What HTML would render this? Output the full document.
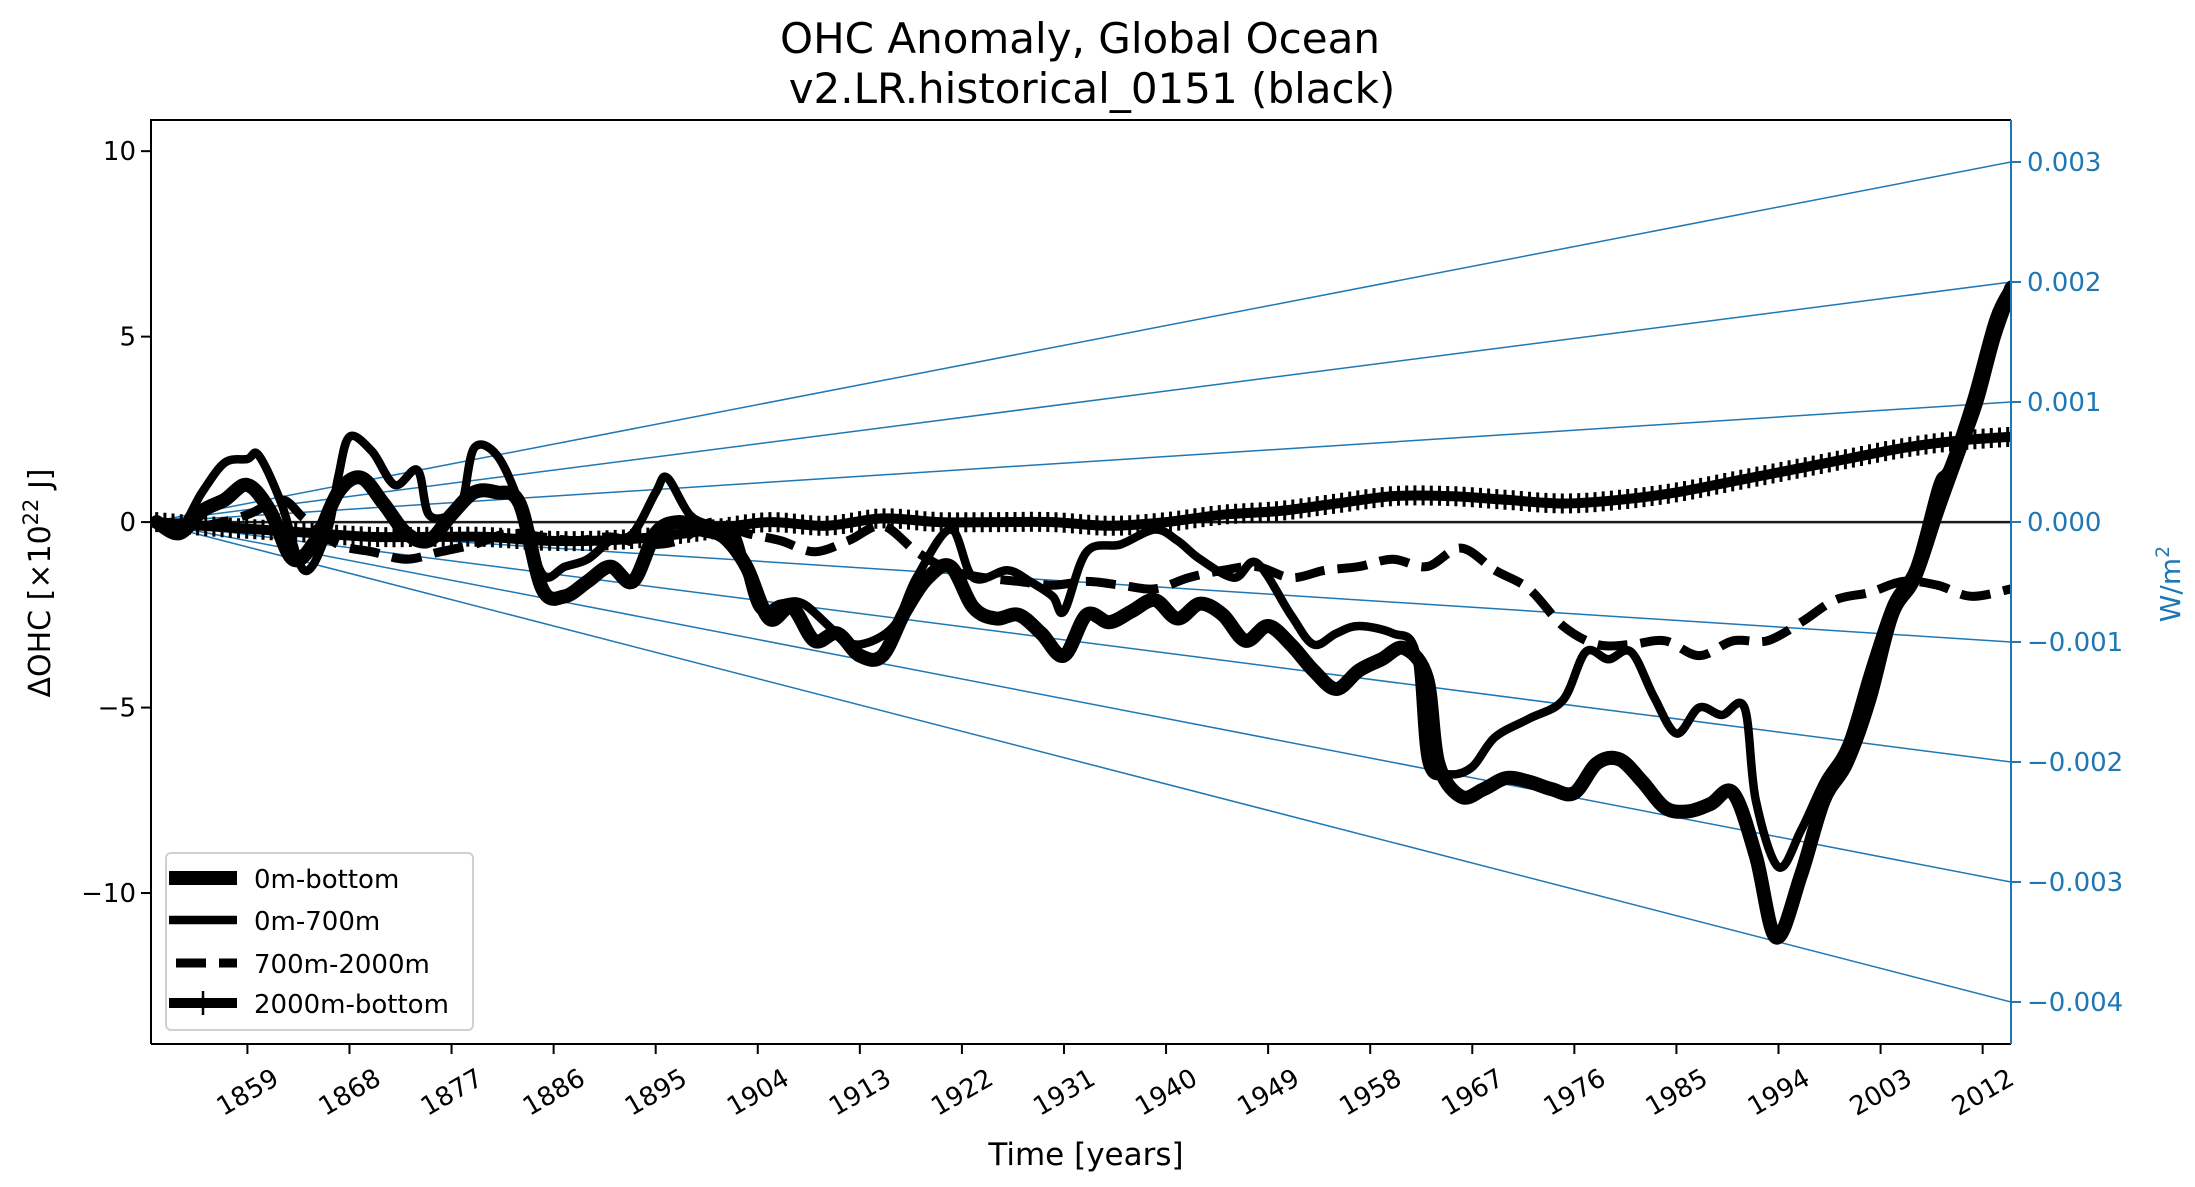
<!DOCTYPE html>
<html><head><meta charset="utf-8"><style>
html,body{margin:0;padding:0;background:#fff;}
svg{display:block;font-family:"DejaVu Sans","Liberation Sans",sans-serif;}
</style></head><body>
<svg id="chart" width="2195" height="1187" viewBox="0 0 2195 1187" xmlns="http://www.w3.org/2000/svg">
<rect width="2195" height="1187" fill="#fff"/>
<text x="1080" y="53" font-size="42" text-anchor="middle">OHC Anomaly, Global Ocean</text>
<text x="1092" y="103" font-size="42" text-anchor="middle">v2.LR.historical_0151 (black)</text>
<g id="plot"></g>
<text x="1086" y="1165" font-size="31" text-anchor="middle">Time [years]</text>
<text transform="translate(50,583) rotate(-90)" font-size="30" text-anchor="middle">ΔOHC [×10<tspan dy="-12" font-size="21">22</tspan><tspan dy="12"> J]</tspan></text>
<text transform="translate(2180,584) rotate(-90)" font-size="28" fill="#1f77b4" text-anchor="middle">W/m<tspan dy="-11" font-size="19">2</tspan></text>
</svg>
<script>
const xTicks=[1859,1868,1877,1886,1895,1904,1913,1922,1931,1940,1949,1958,1967,1976,1985,1994,2003,2012];
const yTicks=[10,5,0,-5,-10];
const rTicks=[0.003,0.002,0.001,0,-0.001,-0.002,-0.003,-0.004];
const rateLines=[0.003,0.002,0.001,0,-0.001,-0.002,-0.003,-0.004];
const yrsTotal=[1851,1853,1855,1857,1859,1861,1863,1865,1867,1869,1871,1873,1875,1877,1879,1881,1883,1885,1887,1889,1891,1893,1895,1897,1899,1901,1903,1905,1907,1909,1911,1913,1915,1917,1919,1921,1923,1925,1927,1929,1931,1933,1935,1937,1939,1941,1943,1945,1947,1949,1951,1953,1955,1957,1959,1961,1963,1964,1966,1968,1970,1972,1974,1976,1978,1980,1982,1984,1986,1988,1990,1992,1993.8,1996,1998,2000,2002,2004,2006,2008,2010,2011.5,2013,2014.5];
const valsTotal=[0,-0.3,0.3,0.6,1.0,0.3,-1.0,-0.5,0.8,1.2,0.5,-0.3,-0.5,0.2,0.8,0.8,0.5,-1.8,-2.0,-1.6,-1.2,-1.6,-0.3,0.0,-0.2,-0.4,-1.2,-2.6,-2.3,-3.2,-3.0,-3.6,-3.6,-2.4,-1.5,-1.2,-2.3,-2.6,-2.5,-3.0,-3.6,-2.5,-2.7,-2.4,-2.1,-2.6,-2.2,-2.5,-3.2,-2.8,-3.3,-4.0,-4.5,-4.0,-3.7,-3.4,-4.2,-6.5,-7.4,-7.2,-6.9,-7.0,-7.2,-7.3,-6.5,-6.4,-7.0,-7.7,-7.8,-7.6,-7.3,-9.0,-11.2,-9.5,-7.5,-6.5,-4.8,-2.5,-1.5,0.3,2.0,3.3,5.0,6.3];
const yrsUpper=[1851,1853,1855,1857,1859,1860,1862,1864,1866,1867,1868,1870,1872,1874,1875,1877,1878,1879,1881,1883,1885,1887,1889,1891,1893,1895,1896,1898,1900,1902,1904,1906,1908,1911,1913,1916,1918,1921,1923,1926,1928,1930,1931,1933,1936,1939,1941,1943,1946,1948,1951,1953,1955,1957,1960,1962,1963,1965,1967,1969,1972,1975,1977,1979,1981,1983,1985,1987,1989,1991,1992,1994,1996,1998,2000,2002,2004,2006,2008,2009,2011,2013,2014.5];
const valsUpper=[0,-0.2,0.8,1.6,1.7,1.8,0.5,-1.3,-0.3,1.2,2.3,1.9,1.0,1.4,0.2,0.2,0.6,2.0,1.8,0.5,-1.4,-1.2,-1.0,-0.5,-0.3,0.8,1.2,0.2,-0.1,-0.3,-2.3,-2.2,-2.2,-3.0,-3.3,-2.8,-1.5,-0.2,-1.5,-1.3,-1.6,-2.0,-2.4,-0.8,-0.6,-0.2,-0.5,-1.0,-1.5,-1.1,-2.5,-3.3,-3.0,-2.8,-3.0,-3.5,-6.5,-6.8,-6.6,-5.8,-5.3,-4.8,-3.5,-3.7,-3.5,-4.7,-5.7,-5.0,-5.2,-5.0,-7.5,-9.3,-8.3,-7.0,-6.0,-4.0,-2.2,-1.2,1.0,1.5,3.3,5.5,6.4];
const yrsMid=[1851,1855,1859,1862,1864,1867,1870,1873,1876,1879,1882,1885,1888,1891,1894,1897,1900,1903,1906,1909,1912,1915,1918,1921,1924,1927,1930,1933,1936,1939,1942,1945,1948,1951,1954,1957,1960,1963,1966,1969,1972,1975,1978,1981,1984,1987,1990,1993,1996,1999,2002,2005,2008,2011,2014.5];
const valsMid=[0,-0.1,0.2,0.6,0.1,-0.6,-0.8,-1.0,-0.8,-0.6,-0.3,-0.4,-0.5,-0.4,-0.6,-0.5,0.0,-0.3,-0.5,-0.8,-0.5,-0.1,-0.8,-1.3,-1.5,-1.6,-1.7,-1.6,-1.7,-1.8,-1.5,-1.3,-1.2,-1.5,-1.3,-1.2,-1.0,-1.2,-0.7,-1.3,-1.8,-2.8,-3.3,-3.3,-3.2,-3.6,-3.2,-3.2,-2.7,-2.1,-1.9,-1.6,-1.7,-2.0,-1.8];
const yrsDeep=[1851,1855,1860,1865,1870,1875,1880,1885,1890,1895,1900,1905,1910,1915,1920,1925,1930,1935,1940,1945,1950,1955,1960,1965,1970,1975,1980,1985,1990,1995,2000,2005,2010,2014.5];
const valsDeep=[0,-0.1,-0.2,-0.3,-0.4,-0.4,-0.4,-0.5,-0.5,-0.4,-0.2,0.0,-0.1,0.1,0.0,0.0,0.0,-0.1,0.0,0.2,0.3,0.5,0.7,0.7,0.6,0.5,0.6,0.8,1.1,1.4,1.7,2.0,2.2,2.3];

const L=151,R=2011,T=120,B=1044;
const X0=1850.5,X1=2014.5,YMIN=-14.07,YMAX=10.84,RMIN=-0.004350,RMAX=0.003350;
const sx=v=>L+(v-X0)/(X1-X0)*(R-L);
const sy=v=>B-(v-YMIN)/(YMAX-YMIN)*(B-T);
const sr=v=>B-(v-RMIN)/(RMAX-RMIN)*(B-T);
const NS="http://www.w3.org/2000/svg";
const plot=document.getElementById('plot');
function mk(tag,attrs,parent){const e=document.createElementNS(NS,tag);for(const k in attrs)e.setAttribute(k,attrs[k]);(parent||plot).appendChild(e);return e;}
function smoothPath(pts){let d='M'+pts[0][0].toFixed(1)+','+pts[0][1].toFixed(1);
 for(let i=0;i<pts.length-1;i++){const p0=pts[Math.max(0,i-1)],p1=pts[i],p2=pts[i+1],p3=pts[Math.min(pts.length-1,i+2)];
  const c1=[p1[0]+(p2[0]-p0[0])/6,p1[1]+(p2[1]-p0[1])/6],c2=[p2[0]-(p3[0]-p1[0])/6,p2[1]-(p3[1]-p1[1])/6];
  d+='C'+c1[0].toFixed(1)+','+c1[1].toFixed(1)+' '+c2[0].toFixed(1)+','+c2[1].toFixed(1)+' '+p2[0].toFixed(1)+','+p2[1].toFixed(1);}
 return d;}
const clip=mk('clipPath',{id:'cp'});mk('rect',{x:L,y:T,width:R-L,height:B-T},clip);
const g=mk('g',{'clip-path':'url(#cp)'});

rateLines.forEach(r=>{const l=mk('line',{x1:sx(X0),y1:sy(0),x2:R,y2:sr(r),stroke:'#1f77b4','stroke-width':1.5},g);

});
const zl=mk('line',{x1:L,y1:sy(0),x2:R,y2:sy(0),stroke:'#1a1a1a','stroke-width':2.5},g);



function series(yrs,vals,w,dash,name){const pts=yrs.map((y,i)=>[sx(y),sy(vals[i])]);
 const p=mk('path',{d:smoothPath(pts),fill:'none',stroke:'#000','stroke-width':w,'stroke-linejoin':'round','stroke-linecap':dash?'butt':'round'},g);
 if(dash)p.setAttribute('stroke-dasharray',dash);
 
 
 return p;}
const deep=series(yrsDeep,valsDeep,10,null,'series-2000m-bottom');
(function(){const len=deep.getTotalLength();let dd='';for(let s=0;s<len;s+=8.2){const pt=deep.getPointAtLength(s);dd+='M'+pt.x.toFixed(1)+','+(pt.y-10).toFixed(1)+'v20';}
 const m=mk('path',{d:dd,stroke:'#000','stroke-width':3,fill:'none'},g);
 
 })();
series(yrsMid,valsMid,9,'30,13','series-700m-2000m');
series(yrsUpper,valsUpper,8.5,null,'series-0m-700m');
series(yrsTotal,valsTotal,14,null,'series-0m-bottom');

const fr=mk('path',{d:`M${L},${B}V${T}H${R}`,fill:'none',stroke:'#000','stroke-width':2});


const bx=mk('line',{x1:L,y1:B,x2:R,y2:B,stroke:'#000','stroke-width':2});


const ra=mk('line',{x1:R,y1:T,x2:R,y2:B,stroke:'#1f77b4','stroke-width':2});



xTicks.forEach(t=>{const x=sx(t);mk('line',{x1:x,y1:B,x2:x,y2:B+10,stroke:'#000','stroke-width':2});
 const tx=mk('text',{x:x,y:1101,'font-size':26,'text-anchor':'middle',transform:`rotate(-30 ${x} 1092)`});tx.textContent=t;
 
 });
yTicks.forEach(t=>{const y=sy(t);mk('line',{x1:L-10,y1:y,x2:L,y2:y,stroke:'#000','stroke-width':2});
 const tx=mk('text',{x:L-15,y:y+9,'font-size':26,'text-anchor':'end'});tx.textContent=t<0?'\u2212'+(-t):t;
 
 });
rTicks.forEach(t=>{const y=sr(t);mk('line',{x1:R,y1:y,x2:R+10,y2:y,stroke:'#1f77b4','stroke-width':2});
 const tx=mk('text',{x:R+16,y:y+9,'font-size':26,fill:'#1f77b4'});tx.textContent=(t<0?'\u2212':'')+Math.abs(t).toFixed(3);
 
 });

const lg=mk('g',{});


mk('rect',{x:166,y:853,width:307,height:177,rx:5,fill:'#fff','fill-opacity':0.85,stroke:'#d0d0d0','stroke-width':2},lg);
const labels=['0m-bottom','0m-700m','700m-2000m','2000m-bottom'];
const ly=[878,920,963,1003];
labels.forEach((lab,i)=>{const y=ly[i];
 const ln=mk('line',{x1:169,y1:y,x2:237,y2:y,stroke:'#000','stroke-width':[14,8.5,9,10][i]},lg);
 if(i===2){ln.setAttribute('stroke-dasharray','30,13');ln.setAttribute('x1',176);}
 if(i===3)mk('line',{x1:203,y1:y-12,x2:203,y2:y+12,stroke:'#000','stroke-width':2.5},lg);
 const tx=mk('text',{x:254,y:y+10,'font-size':26},lg);tx.textContent=lab;
 
 });
</script>
</body></html>
